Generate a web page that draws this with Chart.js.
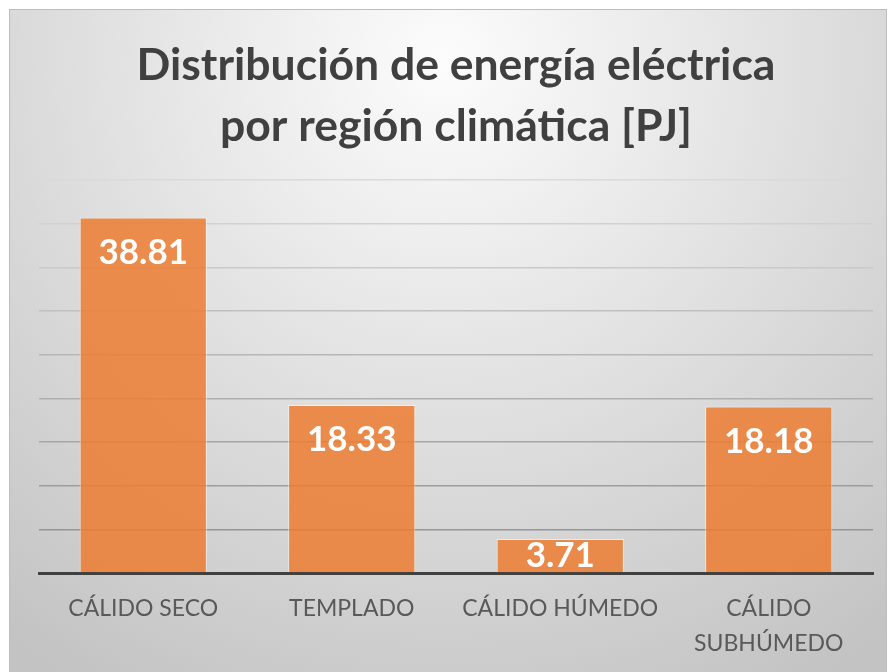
<!DOCTYPE html>
<html>
<head>
<meta charset="utf-8">
<script src="https://cdn.jsdelivr.net/npm/chart.js@4/dist/chart.umd.min.js"></script>
<style>
  html, body { margin: 0; padding: 0; background: #ffffff; }
  #wrap { width: 891px; height: 672px; position: relative; }
</style>
</head>
<body>
<div id="wrap"><canvas id="c" width="891" height="672"></canvas></div>
<script>
const categories = ['CÁLIDO SECO', 'TEMPLADO', 'CÁLIDO HÚMEDO', ['CÁLIDO', 'SUBHÚMEDO']];
const values = [38.81, 18.33, 3.71, 18.18];
const valueLabels = ['38.81', '18.33', '3.71', '18.18'];
const titleLines = ['Distribución de energía eléctrica', 'por región climática [PJ]'];

const FONT = 'Lato, "Open Sans", sans-serif';

const bgPlugin = {
  id: 'bg',
  beforeDraw(chart) {
    const ctx = chart.ctx;
    ctx.save();
    ctx.fillStyle = '#ffffff';
    ctx.fillRect(0, 0, chart.width, chart.height);
    const g = ctx.createRadialGradient(445, 60, 0, 445, 60, 720);
    g.addColorStop(0, '#fcfcfc');
    g.addColorStop(1, '#c3c3c3');
    ctx.fillStyle = g;
    ctx.fillRect(9, 9, 878, chart.height - 9);
    ctx.strokeStyle = '#bdbdbd';
    ctx.lineWidth = 1;
    ctx.beginPath();
    ctx.moveTo(9.5, chart.height);
    ctx.lineTo(9.5, 9.5);
    ctx.lineTo(886.5, 9.5);
    ctx.lineTo(886.5, chart.height);
    ctx.stroke();
    ctx.restore();
  }
};

const labelPlugin = {
  id: 'valueLabels',
  afterDatasetsDraw(chart) {
    const ctx = chart.ctx;
    const meta = chart.getDatasetMeta(0);
    ctx.save();
    ctx.fillStyle = '#ffffff';
    ctx.font = 'bold 35px ' + FONT;
    ctx.textAlign = 'center';
    ctx.textBaseline = 'middle';
    meta.data.forEach((bar, i) => {
      const top = bar.y, base = bar.base;
      const y = Math.min(top + 35, (top + base) / 2);
      ctx.fillText(valueLabels[i], bar.x, y);
    });
    ctx.restore();
  }
};

new Chart(document.getElementById('c'), {
  type: 'bar',
  data: {
    labels: categories,
    datasets: [{
      data: values,
      backgroundColor: 'rgba(237,125,49,0.85)',
      borderColor: 'rgba(255,255,255,0.55)',
      borderWidth: 1,
      categoryPercentage: 0.61,
      barPercentage: 1.0
    }]
  },
  options: {
    responsive: false,
    animation: false,
    devicePixelRatio: 1,
    layout: { padding: { left: 39, right: 18, top: 35, bottom: 0 } },
    plugins: {
      legend: { display: false },
      tooltip: { enabled: false },
      title: {
        display: true,
        text: titleLines,
        color: '#404040',
        font: { family: FONT, size: 44.5, weight: 'bold', lineHeight: 1.37 },
        padding: { top: 0, bottom: 23 }
      }
    },
    scales: {
      x: {
        grid: { display: false },
        border: { display: true, color: '#404040', width: 3 },
        ticks: {
          color: '#595959',
          font: { family: FONT, size: 23, lineHeight: 1.52 },
          padding: 10.5,
          maxRotation: 0,
          autoSkip: false
        }
      },
      y: {
        min: 0,
        max: 42.9,
        afterFit(scale) { scale.width = 0; },
        ticks: { display: false, stepSize: 4.7667 },
        border: { display: false },
        grid: {
          drawTicks: false,
          lineWidth: 1.5,
          color(ctx) {
            if (ctx.index === 0) return 'rgba(0,0,0,0)';
            const t = ctx.index / 9;
            const v = Math.round(140 + t * 78);
            return 'rgb(' + v + ',' + v + ',' + v + ')';
          }
        }
      }
    }
  },
  plugins: [bgPlugin, labelPlugin]
});
</script>
</body>
</html>
